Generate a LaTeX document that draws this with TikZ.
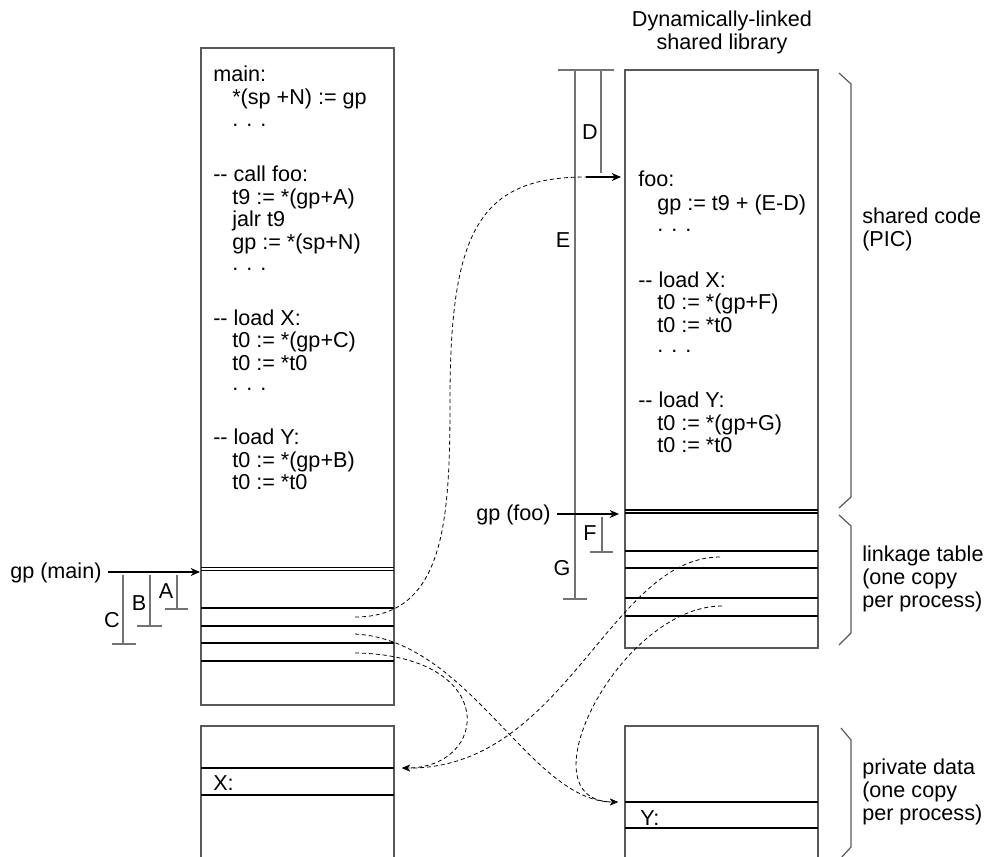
\documentclass[tikz,border=0pt]{standalone}
\usepackage{fontspec}
\setmainfont{Liberation Sans}
\usetikzlibrary{arrows.meta}
\newcommand\dfont{\fontsize{16.2pt}{17.25pt}\selectfont}
\begin{document}
\begin{tikzpicture}[x=0.75pt,y=-0.75pt,
  txt/.style={anchor=base west, inner sep=0pt, font=\dfont},
  lbl/.style={anchor=center, inner sep=0pt, font=\dfont},
  ctr/.style={anchor=base, inner sep=0pt, font=\dfont},
  frame/.style={draw=black!65, line width=1pt},
  cell/.style={draw=black, line width=0.8pt},
  bar/.style={draw=black!55, line width=1pt},
  brace/.style={draw=black!65, line width=0.9pt},
  ptr/.style={draw=black, line width=0.8pt, -{Stealth[length=7pt,width=6pt]}},
  link/.style={draw=black, line width=0.6pt, dash pattern=on 3pt off 2.2pt, -{Stealth[length=6pt,width=5pt]}},
  linkn/.style={draw=black, line width=0.6pt, dash pattern=on 3pt off 2.2pt},
]
\useasboundingbox (0,0) rectangle (984,856);
\clip (0,0) rectangle (984,856);

% ---------- left: main program ----------
\draw[frame] (201,48) rectangle (394,705);
\foreach \yy in {567.7,570.3,608,626,643,661} \draw[cell] (201,\yy) -- (394,\yy);
\draw[frame] (201,726) rectangle (394,880);
\foreach \yy in {768,795} \draw[cell] (201,\yy) -- (394,\yy);

\node[txt] (m1) at (213,81) {main:};
\node[txt] (m2) at (232,104) {*(sp +N) := gp};
\node[txt] (m3) at (232,126) {. . .};
\node[txt] (m4) at (213,181) {-{}- call foo:};
\node[txt] (m5) at (232,204) {t9 := *(gp+A)};
\node[txt] (m6) at (232,226) {jalr t9};
\node[txt] (m7) at (232,249) {gp := *(sp+N)};
\node[txt] (m8) at (232,270) {. . .};
\node[txt] (m9) at (213,325) {-{}- load X:};
\node[txt] (m10) at (232,347) {t0 := *(gp+C)};
\node[txt] (m11) at (232,370) {t0 := *t0};
\node[txt] (m12) at (232,390) {. . .};
\node[txt] (m13) at (213,444) {-{}- load Y:};
\node[txt] (m14) at (232,467) {t0 := *(gp+B)};
\node[txt] (m15) at (232,489) {t0 := *t0};
\node[txt] (xl) at (213,790) {X:};

% gp (main) arrow and offsets
\node[txt] (gpmain) at (10,578) {gp (main)};
\coordinate (gpm0) at (108,572);
\coordinate (gpm1) at (200,572);
\draw[ptr] (gpm0) -- (gpm1);
\draw[bar] (177,575) -- (177,609) (165,609) -- (188,609);
\draw[bar] (150,575) -- (150,626) (137,626) -- (162,626);
\draw[bar] (123,575) -- (123,644) (112,644) -- (136,644);
\node[lbl] (la) at (166,591) {A};
\node[lbl] (lb) at (139,603) {B};
\node[lbl] (lc) at (112,620) {C};

% ---------- right: shared library ----------
\node[ctr] (t1) at (722,27) {Dynamically-linked};
\node[ctr] (t2) at (722,50) {shared library};
\draw[frame] (625,70) rectangle (818,648);
\foreach \yy in {510,513,551,568,598,616} \draw[cell] (625,\yy) -- (818,\yy);
\draw[frame] (625,726) rectangle (818,880);
\foreach \yy in {802,828} \draw[cell] (625,\yy) -- (818,\yy);

\node[txt] (f1) at (638,186) {foo:};
\node[txt] (f2) at (657,210) {gp := t9 + (E-D)};
\node[txt] (f3) at (657,231) {. . .};
\node[txt] (f4) at (638,287) {-{}- load X:};
\node[txt] (f5) at (657,309) {t0 := *(gp+F)};
\node[txt] (f6) at (657,332) {t0 := *t0};
\node[txt] (f7) at (657,352) {. . .};
\node[txt] (f8) at (638,407) {-{}- load Y:};
\node[txt] (f9) at (657,430) {t0 := *(gp+G)};
\node[txt] (f10) at (657,452) {t0 := *t0};
\node[txt] (yl) at (640,825) {Y:};

\draw[bar] (558,70) -- (614,70);
\draw[bar] (575,70) -- (575,599) (563,599) -- (587,599);
\draw[bar] (601,70) -- (601,173);
\draw[bar] (602,517) -- (602,552) (590,552) -- (613,552);
\node[lbl] (ld) at (590,132) {D};
\node[lbl] (le) at (563,240) {E};
\node[lbl] (lf) at (590,533) {F};
\node[lbl] (lg) at (562,568) {G};

\coordinate (foo0) at (586,177);
\coordinate (foo1) at (621,177);
\draw[ptr] (foo0) -- (foo1);
\node[txt] (gpfoo) at (476,520) {gp (foo)};
\coordinate (gpf0) at (557,514);
\coordinate (gpf1) at (619,514);
\draw[ptr] (gpf0) -- (gpf1);

% ---------- braces and side labels ----------
\draw[brace] (839,73) -- (851,84) -- (851,497) -- (839,508);
\draw[brace] (839,515) -- (851,526) -- (851,633) -- (839,645);
\draw[brace] (841,728) -- (851,740) -- (851,847) -- (841,858);
\node[txt] (s1) at (862,223) {shared code};
\node[txt] (s2) at (862,246) {(PIC)};
\node[txt] (k1) at (862,561) {linkage table};
\node[txt] (k2) at (862,584) {(one copy};
\node[txt] (k3) at (862,607) {per process)};
\node[txt] (p1) at (862,774) {private data};
\node[txt] (p2) at (862,797) {(one copy};
\node[txt] (p3) at (862,820) {per process)};

% ---------- dashed links ----------
\coordinate (sA) at (355,617);
\coordinate (sB) at (355,634);
\coordinate (sC) at (355,653);
\coordinate (sF) at (720,557);
\coordinate (sG) at (722,606);
\coordinate (mid1) at (450,400);
\coordinate (xT) at (402,768);
\coordinate (yT) at (618,802);
\draw[linkn] (sA) .. controls (445,617) and (450,520) .. (mid1)
              .. controls (450,230) and (480,177) .. (foo0);
\draw[link] (sB) .. controls (470,640) and (530,802) .. (yT);
\draw[link] (sC) .. controls (500,655) and (490,768) .. (xT);
\draw[link] (sF) .. controls (610,557) and (565,770) .. (xT);
\draw[link] (sG) .. controls (620,606) and (520,802) .. (yT);
\end{tikzpicture}
\end{document}
